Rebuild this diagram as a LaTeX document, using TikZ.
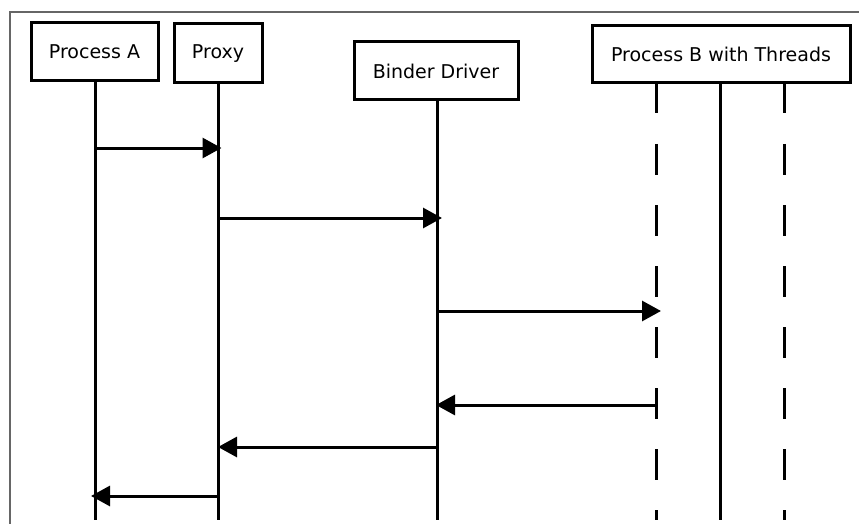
\documentclass[tikz,border=0pt]{standalone}
\usepackage{fontspec}
\setmainfont{DejaVu Sans}
\usetikzlibrary{arrows.meta}

\tikzset{
  actor/.style={draw, line width=3pt, fill=white, inner sep=0pt,
                font=\fontsize{19}{21}\selectfont},
  life/.style={line width=3pt},
  threadline/.style={life, dash pattern=on 30.5pt off 30.5pt},
  msg/.style={line width=3pt, -{Triangle[length=19pt,width=20pt]}},
}

\begin{document}
\begin{tikzpicture}[x=1pt, y=-1pt]
  \useasboundingbox (0,0) rectangle (859,524);

  % outer frame (top and left edges)
  \draw[line width=1.6pt, black!60] (10,524) -- (10,12) -- (859,12);

  % participants
  \node[actor, minimum width=127pt, minimum height=58pt] (pa) at (94.5,52) {Process A};
  \node[actor, minimum width=88pt, minimum height=59pt] (px) at (218,53.5) {Proxy};
  \node[actor, minimum width=164pt, minimum height=58pt] (bd) at (436,71) {Binder Driver};
  \node[actor, minimum width=258pt, minimum height=57pt] (pb) at (721,54.5) {Process B with Threads};

  % lifeline ends
  \coordinate (paE) at (95,520);
  \coordinate (pxE) at (218,520);
  \coordinate (bdE) at (437,520);
  \coordinate (t1S) at (656,83);  \coordinate (t1E) at (656,520);
  \coordinate (t2S) at (720,83);  \coordinate (t2E) at (720,520);
  \coordinate (t3S) at (784,83);  \coordinate (t3E) at (784,520);

  % lifelines
  \draw[life] (pa.south -| paE) -- (paE);
  \draw[life] (px.south -| pxE) -- (pxE);
  \draw[life] (bd.south -| bdE) -- (bdE);
  \draw[threadline] (t1S) -- (t1E);
  \draw[life] (t2S) -- (t2E);
  \draw[threadline] (t3S) -- (t3E);

  % message anchors on the lifelines
  \coordinate (m1a) at (95,148);  \coordinate (m1b) at (218,148);
  \coordinate (m2a) at (218,218); \coordinate (m2b) at (437,218);
  \coordinate (m3a) at (437,311); \coordinate (m3b) at (656,311);
  \coordinate (m4a) at (656,405); \coordinate (m4b) at (437,405);
  \coordinate (m5a) at (437,447); \coordinate (m5b) at (218,447);
  \coordinate (m6a) at (218,496); \coordinate (m6b) at (95,496);

  % messages
  \draw[msg, shorten >=-3.5pt] (m1a) -- (m1b);
  \draw[msg, shorten >=-5pt] (m2a) -- (m2b);
  \draw[msg, shorten >=-5pt] (m3a) -- (m3b);
  \draw[msg, shorten >=-1pt] (m4a) -- (m4b);
  \draw[msg] (m5a) -- (m5b);
  \draw[msg, shorten >=-4pt] (m6a) -- (m6b);
\end{tikzpicture}
\end{document}
